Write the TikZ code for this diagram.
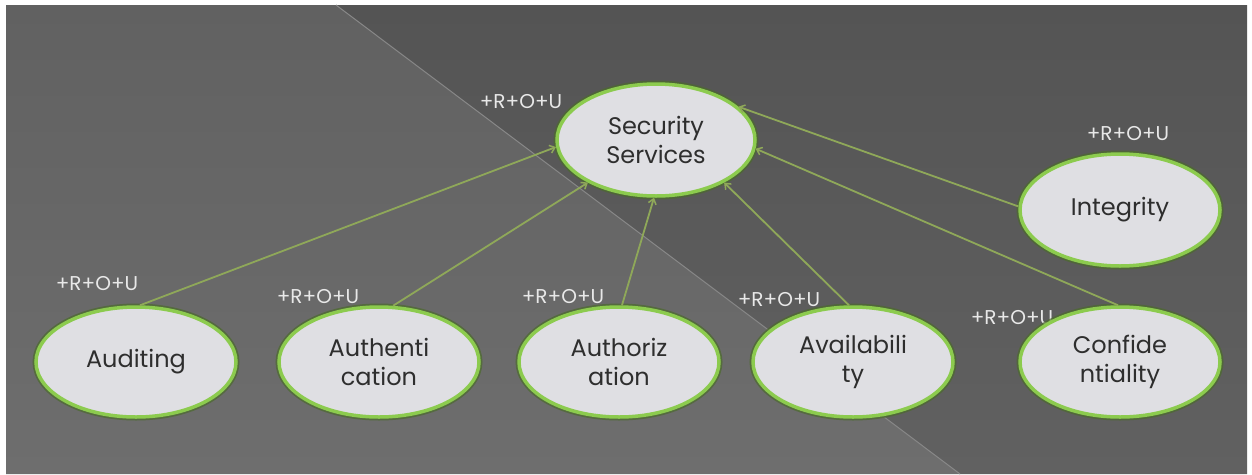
\documentclass[tikz,border=0pt]{standalone}
\usepackage{fontspec}
\setmainfont{Poppins}
\usetikzlibrary{shapes.geometric,arrows.meta}

\definecolor{bgleftA}{HTML}{616161}
\definecolor{bgleftB}{HTML}{6E6E6E}
\definecolor{bgrightA}{HTML}{545454}
\definecolor{bgrightB}{HTML}{616161}
\definecolor{seam}{HTML}{878787}
\definecolor{ovalfill}{HTML}{DFDFE3}
\definecolor{ovalring}{HTML}{8CCB4E}
\definecolor{ovalhalo}{HTML}{4C6B2C}
\definecolor{linkgreen}{HTML}{8FA859}
\definecolor{ovaltext}{HTML}{2E2E2E}
\definecolor{tagtext}{HTML}{E8E8E8}

\tikzset{
  oval/.style={ellipse, fill=ovalfill, draw=ovalring, line width=3.5pt,
    minimum width=200pt, minimum height=110pt, inner sep=0pt,
    align=center, text=ovaltext,
    font=\fontsize{24}{29}\selectfont,
    preaction={draw=ovalhalo, line width=7pt, opacity=0.7}},
  tag/.style={text=tagtext, font=\fontsize{20}{22}\selectfont, inner sep=0pt},
  link/.style={draw=linkgreen, line width=1.8pt,
    -{Straight Barb[length=5pt,width=8pt,line width=1.5pt]}},
}

\begin{document}
\begin{tikzpicture}[x=1pt,y=-1pt]
  % page and slide background with diagonal split
  \fill[white] (0,0) rectangle (1252,474);
  \useasboundingbox (0,0) rectangle (1252,474);
  \shade[top color=bgleftA, bottom color=bgleftB]
    (6,5) -- (336,5) -- (960,474) -- (6,474) -- cycle;
  \shade[top color=bgrightA, bottom color=bgrightB]
    (336,5) -- (1247,5) -- (1247,474) -- (960,474) -- cycle;
  \draw[seam, line width=1pt] (336,5) -- (960,474);

  % role tags (drawn first so ovals overlap them)
  \node[tag] (tsec) at (521,102) {+R+O+U};
  \node[tag] (tint) at (1128,134) {+R+O+U};
  \node[tag] (taud) at (97,284) {+R+O+U};
  \node[tag] (tauthn) at (318,297) {+R+O+U};
  \node[tag] (tauthz) at (563,297) {+R+O+U};
  \node[tag] (tavail) at (779,300) {+R+O+U};
  \node[tag] (tconf) at (1012,318) {+R+O+U};

  % ovals
  \node[oval, minimum width=198pt, minimum height=112pt] (sec) at (656,140) {Security\\Services};
  \node[oval, minimum height=112pt] (int) at (1120,210) {Integrity};
  \node[oval] (aud) at (136,362) {Auditing};
  \node[oval] (authn) at (379,362) {Authenti\\cation};
  \node[oval] (authz) at (619,362) {Authoriz\\ation};
  \node[oval] (avail) at (853,362) {Availabili\\ty};
  \node[oval] (conf) at (1120,362) {Confide\\ntiality};

  % connectors to the central service
  \draw[link] (aud.86) -- (sec.184);
  \draw[link] (authn.76) -- (sec.212);
  \draw[link] (authz.87) -- (sec.268);
  \draw[link] (avail.94) -- (sec.328);
  \draw[link] (conf.92) -- (sec.355);
  \draw[link] (int.178) -- (sec.22);
\end{tikzpicture}
\end{document}
